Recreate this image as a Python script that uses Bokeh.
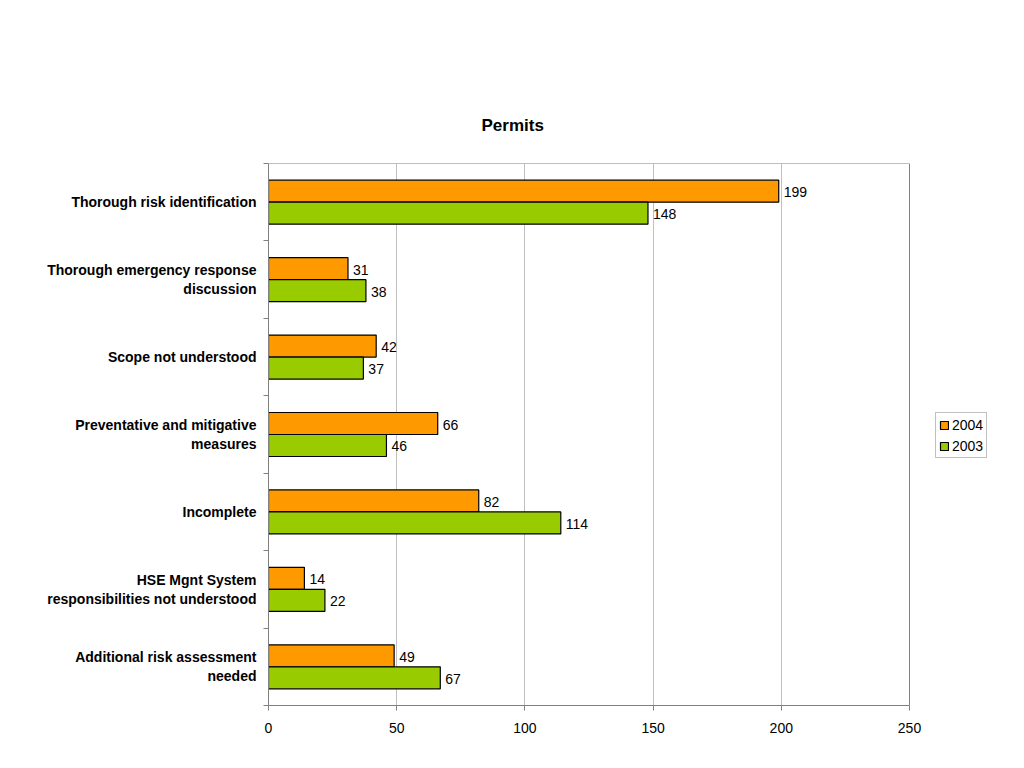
from bokeh.plotting import figure
from bokeh.models import Range1d, FixedTicker, Legend, LegendItem, ColumnDataSource, BoxAnnotation
from bokeh.core.properties import value
from bokeh.embed import file_html
from bokeh.resources import INLINE

categories = [
    "Thorough risk identification",
    "Thorough emergency response\ndiscussion",
    "Scope not understood",
    "Preventative and mitigative\nmeasures",
    "Incomplete",
    "HSE Mgnt System\nresponsibilities not understood",
    "Additional risk assessment\nneeded",
]
series_names = ["2004", "2003"]
values_2004 = [199, 31, 42, 66, 82, 14, 49]
values_2003 = [148, 38, 37, 46, 114, 22, 67]
x_ticks = [0, 50, 100, 150, 200, 250]
x_max = 250
title_text = "Permits"

FONT = "Liberation Sans"
n = len(categories)
centers = [n - 0.5 - i for i in range(n)]
bar_h = 0.284

W, H = 1016, 760
left_b, right_b, top_b, bottom_b = 268, 15, 163, 55
frame_w = W - left_b - right_b
axis_px = 641  # pixel length of the 0..250 value axis
x_end = x_max * frame_w / axis_px  # extra room to the right holds the legend

p = figure(width=W, height=H, output_backend="svg", toolbar_location=None,
           x_range=Range1d(0, x_end), y_range=Range1d(0, n),
           min_border_left=left_b, min_border_right=right_b, min_border_top=top_b, min_border_bottom=bottom_b)
p.title.text = title_text
p.title.align = "left"
p.title.offset = 213
p.title.text_font = FONT
p.title.text_font_size = "17px"
p.title.text_font_style = "bold"
p.title.text_color = "black"
p.title.standoff = 58
p.title.vertical_align = "bottom"
p.outline_line_color = None

# plot-area border (0..250 x full height)
p.add_layout(BoxAnnotation(left=0, right=x_max, bottom=0, top=n, fill_alpha=0,
                           line_color="#808080", line_alpha=1, line_width=1, level="underlay"))

src4 = ColumnDataSource(dict(y=[c + bar_h / 2 for c in centers], v=values_2004, t=[str(v) for v in values_2004]))
src3 = ColumnDataSource(dict(y=[c - bar_h / 2 for c in centers], v=values_2003, t=[str(v) for v in values_2003]))

r4 = p.hbar(y="y", right="v", left=0, height=bar_h, source=src4, fill_color="#FF9900", line_color="black", line_width=1.2)
r3 = p.hbar(y="y", right="v", left=0, height=bar_h, source=src3, fill_color="#99CC00", line_color="black", line_width=1.2)

for src in (src4, src3):
    p.text(x="v", y="y", text="t", source=src, x_offset=5, y_offset=1, text_baseline="middle", text_align="left",
           text_font=value(FONT), text_font_size="14px", text_color="black")

# x axis
p.xaxis.ticker = FixedTicker(ticks=x_ticks)
p.xaxis.bounds = (0, x_max)
p.xaxis.axis_line_color = "#808080"
p.xaxis.major_tick_line_color = "#808080"
p.xaxis.major_tick_out = 5
p.xaxis.major_tick_in = 0
p.xaxis.minor_tick_line_color = None
p.xaxis.major_label_standoff = 12
p.xaxis.major_label_text_font = FONT
p.xaxis.major_label_text_font_size = "14px"
p.xaxis.major_label_text_color = "black"

# y axis
p.yaxis.ticker = FixedTicker(ticks=centers, minor_ticks=list(range(n + 1)))
p.yaxis.major_label_overrides = {c: lab for c, lab in zip(centers, categories)}
p.yaxis.axis_line_color = "#808080"
p.yaxis.major_tick_line_color = None
p.yaxis.major_tick_out = 0
p.yaxis.major_tick_in = 0
p.yaxis.minor_tick_line_color = "#808080"
p.yaxis.minor_tick_out = 5
p.yaxis.minor_tick_in = 0
p.yaxis.major_label_standoff = 7
p.yaxis.major_label_text_font = FONT
p.yaxis.major_label_text_font_size = "14px"
p.yaxis.major_label_text_font_style = "bold"
p.yaxis.major_label_text_color = "black"

p.xgrid.ticker = FixedTicker(ticks=x_ticks[1:-1])
p.xgrid.grid_line_color = "#c0c0c0"
p.ygrid.grid_line_color = None

legend = Legend(items=[LegendItem(label=series_names[0], renderers=[r4]),
                       LegendItem(label=series_names[1], renderers=[r3])],
                location=(667, 247), orientation="vertical",
                label_text_font=FONT, label_text_font_size="14px", label_text_color="black",
                glyph_width=10, glyph_height=10, label_height=17, label_standoff=3,
                spacing=4, padding=3, margin=0,
                border_line_color="#c0c0c0", border_line_alpha=1, background_fill_alpha=1)
p.add_layout(legend, "center")

open("out.html", "w").write(file_html(p, INLINE))
